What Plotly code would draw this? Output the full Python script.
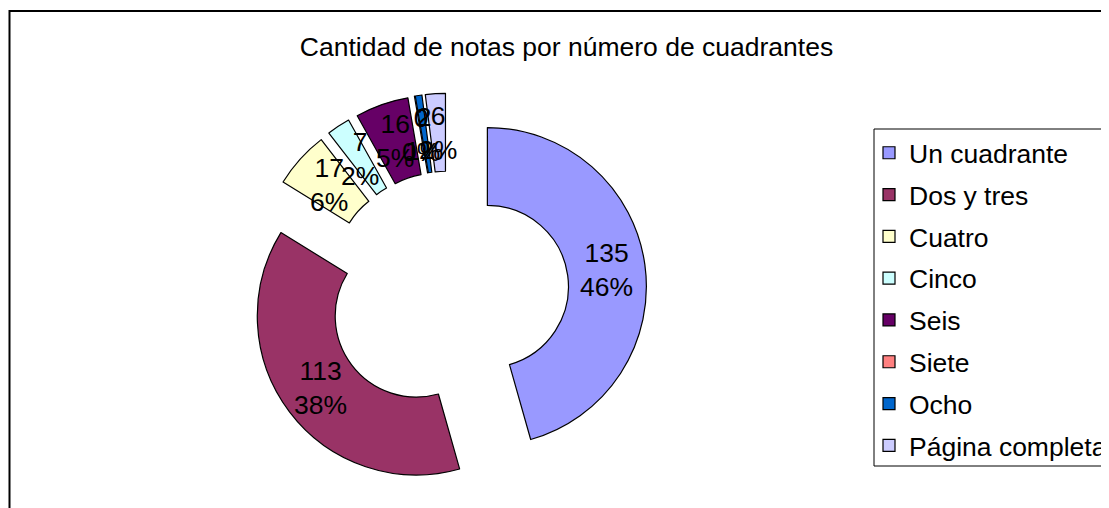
import math
import plotly.graph_objects as go

# ---- data ----
labels = ["Un cuadrante", "Dos y tres", "Cuatro", "Cinco", "Seis", "Siete", "Ocho", "Página completa"]
values = [135, 113, 17, 7, 16, 0, 2, 6]
colors = ["#9999FF", "#993366", "#FFFFCC", "#CCFFFF", "#660066", "#FF8080", "#0066CC", "#CCCCFF"]
title_text = "Cantidad de notas por número de cuadrantes"

W, H = 1109, 508
FONT = "Arial, Liberation Sans, sans-serif"
FS = 26.5
HOLE = 0.51
PULL = 0.25
DOM_X = [0.21754, 0.57597]
DOM_Y = [0.04970, 0.83219]

fig = go.Figure()
fig.add_trace(go.Pie(
    labels=labels,
    values=values,
    sort=False,
    direction="clockwise",
    rotation=0,
    hole=HOLE,
    pull=[PULL] * len(values),
    marker=dict(colors=colors, line=dict(color="black", width=1.2)),
    textinfo="none",
    domain=dict(x=DOM_X, y=DOM_Y),
    hoverinfo="label+value+percent",
))

# invisible helper entry so each slice becomes its own legend group (for item spacing)
fig.add_trace(go.Scatter(
    x=[None], y=[None], mode="markers", name="", legendgroup="zz",
    marker=dict(color="rgba(0,0,0,0)", size=1, opacity=0), showlegend=True, hoverinfo="skip",
))

# data labels placed at the middle of each (pulled) ring slice, horizontal like the original
box_w = (DOM_X[1] - DOM_X[0]) * W
box_h = (DOM_Y[1] - DOM_Y[0]) * H
R = min(box_w, box_h) / 2 / (1 + PULL)
cx = (DOM_X[0] + DOM_X[1]) / 2 * W
cy = H * (1 - (DOM_Y[0] + DOM_Y[1]) / 2)
r_mid = R * (1 + HOLE) / 2
total = sum(values)
annotations = []
cum = 0
for lab, v in zip(labels, values):
    mid = (cum + v / 2) / total * 2 * math.pi
    cum += v
    dist = PULL * R + r_mid
    px = cx + dist * math.sin(mid)
    py = cy - dist * math.cos(mid)
    annotations.append(dict(
        x=px / W, y=1 - py / H, xref="paper", yref="paper",
        text=f"{v}<br>{round(100 * v / total)}%", showarrow=False,
        xanchor="center", yanchor="middle",
        font=dict(family=FONT, size=FS, color="black"),
    ))

item_h = FS * 1.3 + 3

fig.update_layout(
    width=W, height=H,
    margin=dict(l=0, r=0, t=0, b=0, autoexpand=False),
    paper_bgcolor="white",
    plot_bgcolor="white",
    font=dict(family=FONT, size=FS, color="black"),
    title=dict(text=title_text, x=558.5 / W, xanchor="center", y=1 - 39 / H, yanchor="middle",
               yref="container", font=dict(family=FONT, size=FS, color="black")),
    xaxis=dict(visible=False),
    yaxis=dict(visible=False),
    annotations=annotations,
    legend=dict(
        x=861 / W, xanchor="left",
        y=1 - 121 / H, yanchor="top",
        traceorder="grouped",
        tracegroupgap=41.8 - item_h,
        bgcolor="rgba(0,0,0,0)",
        borderwidth=0,
        font=dict(family=FONT, size=FS, color="black"),
    ),
    shapes=[
        # outer chart frame
        dict(type="rect", xref="paper", yref="paper",
             x0=1.5 / W, x1=1.02, y0=-0.05, y1=1 - 3 / H,
             line=dict(color="black", width=2), fillcolor="rgba(0,0,0,0)", layer="below"),
        # legend box
        dict(type="rect", xref="paper", yref="paper",
             x0=866 / W, x1=1.02, y0=1 - 458 / H, y1=1 - 121 / H,
             line=dict(color="black", width=1), fillcolor="white", layer="below"),
    ],
)

fig.write_html("out.html")
